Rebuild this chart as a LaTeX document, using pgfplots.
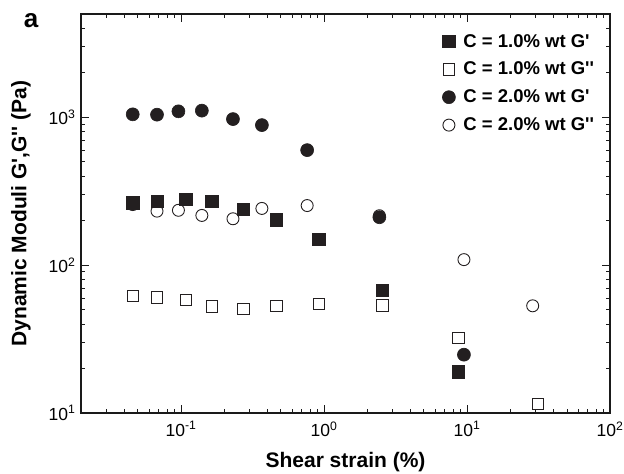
\documentclass[border=0pt]{standalone}
\usepackage{fontspec}
\setmainfont{Liberation Sans}
\usepackage{pgfplots}
\pgfplotsset{compat=1.18}
\definecolor{markdark}{HTML}{231F20}
\definecolor{framegray}{HTML}{1A1A1A}
\newcommand{\sq}{\textquotesingle}

\begin{document}
\begin{tikzpicture}
\path[use as bounding box] (-81pt,-61pt) rectangle (543pt,413pt);
\begin{axis}[
  at={(0,0)}, anchor=south west,
  scale only axis,
  width=529pt, height=399pt,
  xmode=log, ymode=log,
  xmin=0.02, xmax=100,
  ymin=10, ymax=5000,
  xtick={0.1,1,10,100},
  xticklabels={10\textsuperscript{-1},10\textsuperscript{0},10\textsuperscript{1},10\textsuperscript{2}},
  ytick={10,100,1000},
  yticklabels={10\textsuperscript{1},10\textsuperscript{2},10\textsuperscript{3}},
  minor xtick={0.03,0.04,0.05,0.06,0.07,0.08,0.09,0.2,0.3,0.4,0.5,0.6,0.7,0.8,0.9,2,3,4,5,6,7,8,9,20,30,40,50,60,70,80,90},
  minor ytick={20,30,40,50,60,70,80,90,200,300,400,500,600,700,800,900,2000,3000,4000},
  tick align=inside,
  major tick length=8pt,
  minor tick length=4.5pt,
  axis line style={draw=framegray,line width=1.1pt},
  every tick/.style={draw=framegray,line width=0.9pt},
  tick label style={font=\fontsize{17.5}{20}\selectfont},
  xticklabel style={yshift=-5pt},
  yticklabel style={xshift=-2pt},
  xlabel={\textbf{Shear strain (\%)}},
  ylabel={\textbf{Dynamic Moduli G\sq,G\sq\sq\ (Pa)}},
  label style={font=\fontsize{21}{24}\selectfont},
  xlabel style={at={(axis description cs:0.5,0)},anchor=center,yshift=-49pt},
  ylabel style={at={(axis description cs:0,0.5)},anchor=center,yshift=60pt},
  clip=false,
  legend style={draw=none,fill=none,at={(axis description cs:0.974,0.955)},anchor=north east,
    font=\fontsize{18.5}{20}\selectfont\bfseries,row sep=9.5pt,column sep=6pt,inner sep=0pt,
    cells={anchor=west}},
  legend cell align=left,
  legend image code/.code={\draw[mark repeat=2,mark phase=2,#1] plot coordinates {(0pt,0pt)(5pt,0pt)(10pt,0pt)};},
]
\addplot[only marks,mark=square*,mark size=6.2pt,draw=markdark,fill=markdark,line width=0.6pt] coordinates {
  (0.046,264) (0.068,271) (0.108,278) (0.164,270) (0.274,238) (0.466,203) (0.92,149) (2.56,67.5) (8.73,19.0)
};
\addlegendentry{C = 1.0\% wt G\sq}
\addplot[only marks,mark=square*,mark size=5.7pt,draw=markdark,fill=white,line width=0.9pt] coordinates {
  (0.046,62.1) (0.068,60.5) (0.108,58.4) (0.164,52.6) (0.274,50.5) (0.466,53.1) (0.92,54.8) (2.56,53.3) (8.73,32.1) (31.2,11.5)
};
\addlegendentry{C = 1.0\% wt G\sq\sq}
\addplot[only marks,mark=*,mark size=6.5pt,draw=markdark,fill=markdark,line width=0.6pt] coordinates {
  (0.046,1048) (0.068,1042) (0.096,1098) (0.140,1110) (0.231,973) (0.368,886) (0.763,600) (2.44,211) (9.52,24.8)
};
\addlegendentry{C = 2.0\% wt G\sq}
\addplot[only marks,mark=o,mark size=6pt,draw=markdark,line width=0.9pt] coordinates {
  (0.046,257) (0.068,232) (0.096,235) (0.140,217) (0.231,206) (0.368,242) (0.763,253) (2.44,216) (9.52,109) (28.8,53.1)
};
\addlegendentry{C = 2.0\% wt G\sq\sq}
\end{axis}
\node[font=\fontsize{26}{28}\selectfont\bfseries] at (-50pt,392pt) {a};
\end{tikzpicture}
\end{document}
